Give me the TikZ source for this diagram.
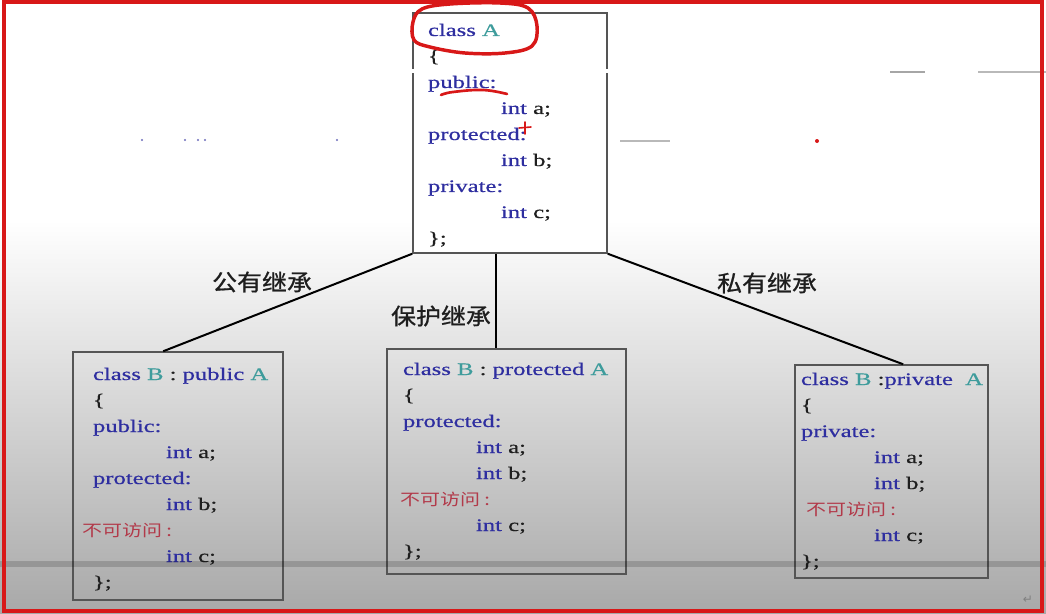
\documentclass[tikz,border=0pt]{standalone}
\usepackage{fontspec}
\usetikzlibrary{fit,calc}
\newfontfamily\codefont{Liberation Serif}[FakeStretch=1.4, FakeBold=0.6]
\newfontfamily\cjkred{Noto Sans CJK SC}[FakeStretch=1.25]
\newfontfamily\cjklab{Noto Sans CJK SC}[FakeStretch=1.1, FakeBold=0.8]
\newfontfamily\symfont{DejaVu Sans}
\definecolor{kwblue}{HTML}{2E2EA0}
\definecolor{clsteal}{HTML}{3E9C9C}
\definecolor{txtblack}{HTML}{1E1E1E}
\definecolor{nored}{HTML}{B23A4A}
\definecolor{edgegray}{HTML}{555555}
\definecolor{framered}{HTML}{D81818}
\definecolor{bgbottom}{HTML}{A8A8A8}
\newcommand\kw[1]{\textcolor{kwblue}{#1}}
\newcommand\cn[1]{\textcolor{clsteal}{#1}}
\newcommand\ind{\hspace*{54.75pt}}
\newcommand\nofw{{\cjkred\fontsize{12pt}{19.5pt}\selectfont\textcolor{nored}{不可访问 :}}}
\newcommand\codeblock[1]{\parbox[t]{230pt}{\codefont\fontsize{13.2pt}{19.5pt}\selectfont\leavevmode\color{txtblack}#1}}
\tikzset{
  classbox/.style={draw=edgegray, line width=1.1pt, inner sep=0pt},
  code/.style={anchor=base west, inner sep=0pt, outer sep=0pt},
  conn/.style={draw=black, line width=1.5pt},
  lab/.style={inner sep=0pt, font=\cjklab\fontsize{17pt}{20pt}\selectfont, text=txtblack},
  pen/.style={draw=framered, line cap=round, line join=round}
}
\begin{document}
\begin{tikzpicture}[x=0.75pt,y=-0.75pt]
\useasboundingbox (0,0) rectangle (1046,614);
% background
\fill[white] (0,0) rectangle (1046,614);
\shade[top color=white, middle color=gray!22, bottom color=bgbottom] (0,220) rectangle (1046,614);

% boxes
\node[classbox, fill=white, fit={(413,13)(607,253)}] (A) {};
\node[classbox, fit={(73,352)(283,600)}] (B1) {};
\node[classbox, fit={(387,349)(626,574)}] (B2) {};
\node[classbox, fit={(795,365)(988,578)}] (B3) {};

% code texts
\node[code] (tA) at (428,36) {\codeblock{%
\kw{class} \cn{A}\\
\{\\
\kw{public:}\\
\ind\kw{int} a;\\
\kw{protected:}\\
\ind\kw{int} b;\\
\kw{private:}\\
\ind\kw{int} c;\\
\};}};

\node[code] (tB1) at (93,380) {\codeblock{%
\kw{class} \cn{B} : \kw{public} \cn{A}\\
\{\\
\kw{public:}\\
\ind\kw{int} a;\\
\kw{protected:}\\
\ind\kw{int} b;\\
\hspace*{-8.25pt}\nofw\\
\ind\kw{int} c;\\
\};}};

\node[code] (tB2) at (403,375) {\codeblock{%
\kw{class} \cn{B} : \kw{protected} \cn{A}\\
\{\\
\kw{protected:}\\
\ind\kw{int} a;\\
\ind\kw{int} b;\\
\hspace*{-2.25pt}\nofw\\
\ind\kw{int} c;\\
\};}};

\node[code] (tB3) at (801,385) {\codeblock{%
\kw{class} \cn{B} :\kw{private}\ \ \cn{A}\\
\{\\
\kw{private:}\\
\ind\kw{int} a;\\
\ind\kw{int} b;\\
\hspace*{3.75pt}\nofw\\
\ind\kw{int} c;\\
\};}};

% connectors
\draw[conn] (A.south west) -- ($(B1.north west)!0.43!(B1.north east)$);
\draw[conn] ($(A.south west)!0.43!(A.south east)$) coordinate (mA) -- (mA |- B2.north);
\draw[conn] (A.south east) -- ($(B3.north west)!0.56!(B3.north east)$);

% labels
\node[lab] (l1) at (262,282) {公有继承};
\node[lab] (l2) at (441,316) {保护继承};
\node[lab] (l3) at (767,283) {私有继承};

% screen artefacts
\fill[black, opacity=0.16] (0,561) rectangle (1046,567);
\fill[white] (0,69) rectangle (1046,73);
\fill[gray!55] (978,71) rectangle (1046,73);
\fill[gray!70] (890,71) rectangle (925,73);
\fill[gray!55] (620,140) rectangle (670,142);
\foreach \dx in {142,185,198,205,337} \fill[kwblue!70] (\dx,140) circle (1.2);
\fill[framered] (817,141) circle (2);
\node[inner sep=0pt, text=gray, font=\symfont\fontsize{9pt}{10pt}\selectfont] (ret) at (1028,600) {↵};

% red frame and pen marks
\draw[framered, line width=3pt] (4,2) rectangle (1042,611);
\draw[pen, line width=2.6pt] plot[smooth cycle, tension=0.6] coordinates {(414,40) (413,22) (422,9) (450,4) (500,3) (528,8) (537,26) (532,46) (505,53) (465,53) (430,47)};
\draw[pen, line width=2pt] plot[smooth, tension=0.7] coordinates {(441,95) (453,92) (483,90) (507,94)};
\draw[pen, line width=1.2pt] (519,128) -- (531,127) (525,122) -- (525,134);
\end{tikzpicture}
\end{document}
